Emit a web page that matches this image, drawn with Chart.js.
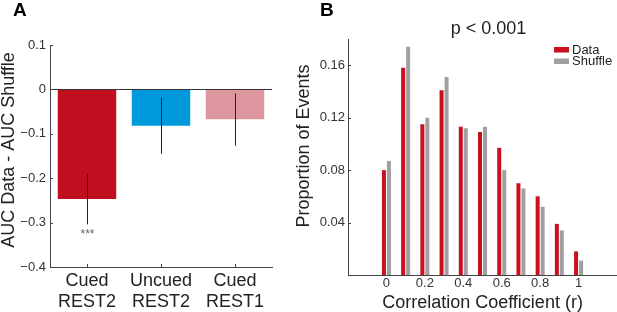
<!DOCTYPE html>
<html>
<head>
<meta charset="utf-8">
<script src="https://cdn.jsdelivr.net/npm/chart.js@4.4.1/dist/chart.umd.min.js"></script>
<style>
  html, body { margin: 0; padding: 0; background: #fff; overflow: hidden; }
  body { width: 617px; height: 312px; position: relative; }
  canvas { position: absolute; top: 0; }
  #chartA { left: 0; }
  #chartB { left: 280px; }
  .letter { position: absolute; top: 0; font: bold 19px/19px "Liberation Sans", Arial, sans-serif; color: #000; }
</style>
</head>
<body>
<canvas id="chartA" width="280" height="312"></canvas>
<canvas id="chartB" width="337" height="312"></canvas>
<div class="letter" style="left:13px">A</div>
<div class="letter" style="left:320px">B</div>
<script>
// ---- panel A: AUC difference per condition
const groups = [['Cued', 'REST2'], ['Uncued', 'REST2'], ['Cued', 'REST1']];
const aucDiff = [-0.247, -0.082, -0.067];
const errLow = [-0.304, -0.145, -0.127];
const errHigh = [-0.191, -0.018, -0.009];
const groupColors = ['#c10f1f', '#0099db', '#de979e'];
const sigMarks = ['***', '', ''];

// ---- panel B: distribution of correlation coefficients
const rBins = [0, 0.1, 0.2, 0.3, 0.4, 0.5, 0.6, 0.7, 0.8, 0.9, 1];
const dataProp = [0.080, 0.158, 0.115, 0.141, 0.113, 0.109, 0.097, 0.070, 0.060, 0.039, 0.018];
const shuffleProp = [0.087, 0.174, 0.120, 0.151, 0.112, 0.113, 0.080, 0.066, 0.052, 0.034, 0.011];
const rTicks = [0, 0.2, 0.4, 0.6, 0.8, 1];
const propTicks = [0.04, 0.08, 0.12, 0.16];

const FONT = '"Liberation Sans", Arial, sans-serif';
Chart.defaults.font.family = FONT;
Chart.defaults.color = '#222';
const axisColor = '#444';

// short inward tick marks, matlab style
const innerTicks = {
  id: 'innerTicks',
  afterDraw(chart, args, opts) {
    const {ctx, chartArea} = chart;
    const y = chart.scales.y, x = chart.scales.x;
    ctx.save();
    ctx.strokeStyle = axisColor;
    ctx.lineWidth = 1;
    ctx.beginPath();
    y.ticks.forEach(t => {
      const py = Math.round(y.getPixelForValue(t.value)) + 0.5;
      ctx.moveTo(chartArea.left, py);
      ctx.lineTo(chartArea.left + 3, py);
    });
    if (opts.xTicks) {
      x.ticks.forEach((t, i) => {
        const px = Math.round(x.getPixelForTick(i)) + 0.5;
        ctx.moveTo(px, chartArea.bottom);
        ctx.lineTo(px, chartArea.bottom - 3);
      });
    }
    ctx.stroke();
    ctx.restore();
  }
};

// rotated y label at a fixed place
const sideTitle = {
  id: 'sideTitle',
  afterDraw(chart, args, opts) {
    const ctx = chart.ctx;
    ctx.save();
    ctx.translate(opts.x, opts.y);
    ctx.rotate(-Math.PI / 2);
    ctx.font = '18px ' + FONT;
    ctx.fillStyle = '#222';
    ctx.textAlign = 'center';
    ctx.textBaseline = 'middle';
    ctx.fillText(opts.text, 0, 0);
    ctx.restore();
  }
};

const errorBars = {
  id: 'errorBars',
  afterDatasetsDraw(chart) {
    const {ctx} = chart;
    const x = chart.scales.x, y = chart.scales.y;
    ctx.save();
    ctx.strokeStyle = '#222';
    ctx.lineWidth = 1;
    groups.forEach((g, i) => {
      const px = Math.round(x.getPixelForValue(i)) + 0.5;
      ctx.beginPath();
      ctx.moveTo(px, y.getPixelForValue(errHigh[i]));
      ctx.lineTo(px, y.getPixelForValue(errLow[i]));
      ctx.stroke();
      if (sigMarks[i]) {
        ctx.fillStyle = '#666';
        ctx.font = '12px ' + FONT;
        ctx.textAlign = 'center';
        ctx.textBaseline = 'top';
        ctx.fillText(sigMarks[i], px, y.getPixelForValue(errLow[i]) + 4);
      }
    });
    ctx.restore();
  }
};

new Chart(document.getElementById('chartA'), {
  type: 'bar',
  data: {
    labels: groups,
    datasets: [{
      data: aucDiff,
      backgroundColor: groupColors,
      borderWidth: 0,
      barPercentage: 0.79,
      categoryPercentage: 1
    }]
  },
  options: {
    responsive: false,
    animation: false,
    layout: { padding: { top: 45, right: 8, left: 0, bottom: 0 } },
    plugins: {
      legend: { display: false },
      tooltip: { enabled: false },
      innerTicks: { xTicks: true },
      sideTitle: { text: 'AUC Data - AUC Shuffle', x: 9.5, y: 150 }
    },
    scales: {
      x: {
        grid: { display: false, drawTicks: false },
        border: { display: true, color: axisColor },
        ticks: { font: { size: 18, lineHeight: 1.2 }, padding: 3, color: '#222', maxRotation: 0 },
        afterFit: s => { s.height = 45; }
      },
      y: {
        min: -0.4,
        max: 0.1,
        grid: {
          drawTicks: false,
          color: c => (c.tick && Math.abs(c.tick.value) < 1e-9) ? '#333' : 'rgba(0,0,0,0)'
        },
        border: { display: true, color: axisColor },
        ticks: {
          stepSize: 0.1,
          padding: 4,
          font: { size: 13 },
          color: '#333',
          callback: v => Math.abs(v) < 1e-9 ? '0' : v.toFixed(1).replace('-', '\u2212')
        },
        afterFit: s => { s.width = 50; }
      }
    }
  },
  plugins: [errorBars, innerTicks, sideTitle]
});

// title + legend for panel B
const panelBText = {
  id: 'panelBText',
  afterDraw(chart, args, opts) {
    const {ctx, chartArea} = chart;
    ctx.save();
    ctx.fillStyle = '#222';
    ctx.font = '18px ' + FONT;
    ctx.textAlign = 'center';
    ctx.textBaseline = 'alphabetic';
    ctx.fillText(opts.title, (chartArea.left + chartArea.right) / 2 + 6, 33.5);
    ctx.font = '13px ' + FONT;
    ctx.textAlign = 'left';
    ctx.textBaseline = 'middle';
    chart.data.datasets.forEach((ds, i) => {
      const cy = 50 + i * 11.5;
      ctx.fillStyle = ds.backgroundColor;
      ctx.fillRect(274, cy - 3, 15, 5.5);
      ctx.fillStyle = '#222';
      ctx.fillText(ds.label, 292, cy);
    });
    ctx.restore();
  }
};

new Chart(document.getElementById('chartB'), {
  type: 'bar',
  data: {
    datasets: [
      {
        label: 'Data',
        data: rBins.map((r, i) => ({ x: r, y: dataProp[i] })),
        backgroundColor: '#c8101f'
      },
      {
        label: 'Shuffle',
        data: rBins.map((r, i) => ({ x: r, y: shuffleProp[i] })),
        backgroundColor: '#a0a0a0'
      }
    ]
  },
  options: {
    responsive: false,
    animation: false,
    datasets: { bar: { borderWidth: 0, categoryPercentage: 0.52, barPercentage: 0.8 } },
    layout: { padding: { top: 39, right: 0, left: 0, bottom: 0 } },
    plugins: {
      legend: { display: false },
      tooltip: { enabled: false },
      innerTicks: { xTicks: false },
      sideTitle: { text: 'Proportion of Events', x: 24.5, y: 146 },
      panelBText: { title: 'p < 0.001' }
    },
    scales: {
      x: {
        type: 'linear',
        min: -0.2,
        max: 1.2,
        offset: false,
        grid: { display: false, drawTicks: false },
        border: { display: true, color: axisColor },
        afterBuildTicks: s => { s.ticks = rTicks.map(v => ({ value: v })); },
        ticks: { font: { size: 13 }, padding: 1, color: '#333', callback: v => String(v) },
        title: { display: true, text: 'Correlation Coefficient (r)', font: { size: 18, lineHeight: 1 }, padding: 0, color: '#222' },
        afterFit: s => { s.height = 37; }
      },
      y: {
        min: 0,
        max: 0.18,
        grid: { display: false, drawTicks: false },
        border: { display: true, color: axisColor },
        afterBuildTicks: s => { s.ticks = propTicks.map(v => ({ value: v })); },
        ticks: { font: { size: 13 }, padding: 3, color: '#333', callback: v => v.toFixed(2) },
        afterFit: s => { s.width = 68; }
      }
    }
  },
  plugins: [innerTicks, sideTitle, panelBText]
});
</script>
</body>
</html>
